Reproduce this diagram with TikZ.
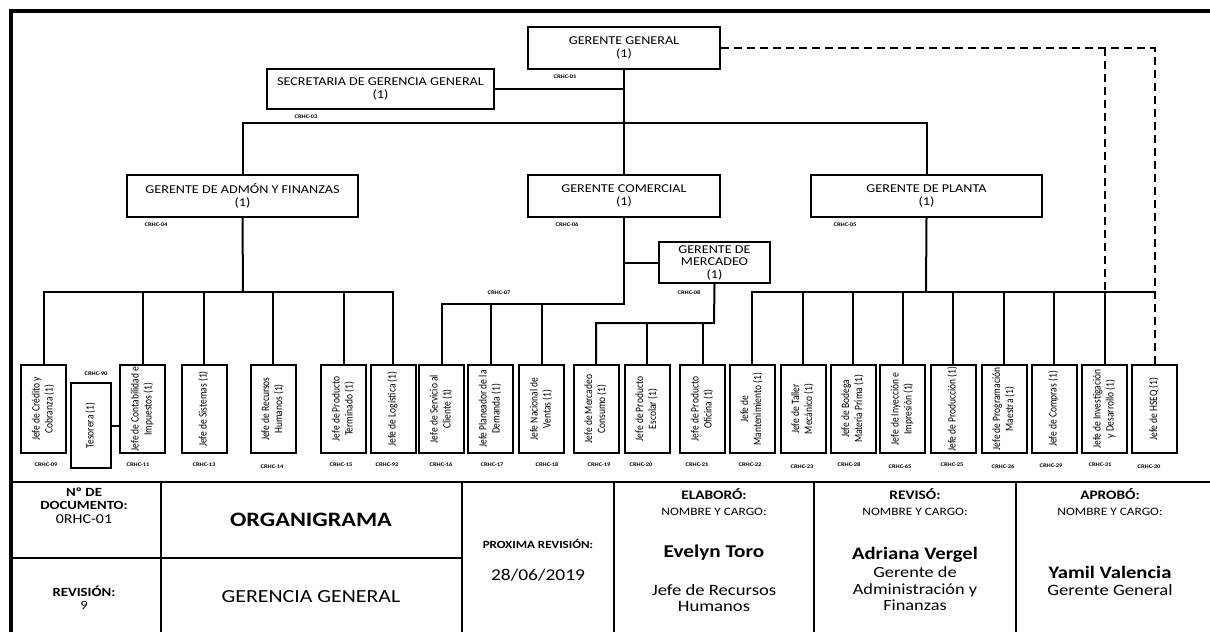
\documentclass[tikz,border=0pt]{standalone}
\usepackage{fontspec}
\setmainfont{Carlito}[FakeStretch=1.18]
\newfontfamily\rotfont{Carlito}
\usetikzlibrary{calc}
\newcommand\vtext[1]{\rotatebox{90}{\scalebox{1}[1.18]{\begin{tabular}{@{}c@{}}#1\end{tabular}}}}
\tikzset{
  mgr/.style={draw, line width=2pt, inner sep=0pt, align=center, font=\fontsize{12}{13.5}\selectfont},
  jefe/.style={draw, line width=2pt, minimum width=45pt, minimum height=88pt, inner sep=0pt, font=\rotfont\fontsize{9.5}{11}\selectfont},
  code/.style={inner sep=0pt, font=\bfseries\fontsize{5.5}{6}\selectfont},
  conn/.style={line width=2pt},
  dconn/.style={line width=2pt, dash pattern=on 8pt off 5pt},
  tline/.style={line width=1.3pt},
  tbold/.style={align=center, inner sep=0pt, font=\bfseries\fontsize{12.5}{13}\selectfont},
  ttext/.style={align=center, inner sep=0pt},
}
\begin{document}
\begin{tikzpicture}[x=1pt,y=-1pt]
\useasboundingbox (0,0) rectangle (1210,632);
% frame
\draw[line width=4.5pt] (11,632) -- (11,11) -- (1210,11);

% managers
\node[mgr, minimum width=192pt, minimum height=42pt] (gg) at (624,48) {GERENTE GENERAL\\(1)};
\node[mgr, minimum width=227pt, minimum height=40pt] (sec) at (380.5,89) {SECRETARIA DE GERENCIA GENERAL\\(1)};
\node[mgr, minimum width=231pt, minimum height=42pt] (adm) at (242.5,196) {GERENTE DE ADMÓN Y FINANZAS\\(1)};
\node[mgr, minimum width=192pt, minimum height=42pt] (com) at (624,196) {GERENTE COMERCIAL\\(1)};
\node[mgr, minimum width=231pt, minimum height=42pt] (pla) at (926.5,196) {GERENTE DE PLANTA\\(1)};
\node[mgr, minimum width=111pt, minimum height=41pt, font=\fontsize{12}{12.5}\selectfont] (mer) at (714.5,262.5) {GERENTE DE\\MERCADEO\\(1)};

\node[code] (c01) at (565,77) {CRHC-01};
\node[code] (c03) at (306,117) {CRHC-03};
\node[code] (c04) at (156,225) {CRHC-04};
\node[code] (c06) at (567,225) {CRHC-06};
\node[code] (c05) at (845,225) {CRHC-05};
\node[code] (c07) at (499,293) {CRHC-07};
\node[code] (c08) at (689,293) {CRHC-08};
\node[code] (c90) at (96,374) {CRHC-90};

% jefes
\node[jefe] (j1) at (43.5,409) {\vtext{Jefe de Crédito y\\Cobranza (1)}};
\node[jefe, minimum width=40pt, minimum height=85pt] (j2) at (91,425.5) {\vtext{Tesorera (1)}};
\node[jefe] (j3) at (142.5,409) {\vtext{Jefe de Contabilidad e\\Impuestos (1)}};
\node[jefe] (j4) at (204,409) {\vtext{Jefe de Sistemas (1)}};
\node[jefe] (j5) at (273,409) {\vtext{Jefe de Recursos\\Humanos (1)}};
\node[jefe] (j6) at (343.5,409) {\vtext{Jefe de Producto\\Terminado (1)}};
\node[jefe] (j7) at (393,409) {\vtext{Jefe de Logística (1)}};
\node[jefe] (j8) at (441.5,409) {\vtext{Jefe de Servicio al\\Cliente (1)}};
\node[jefe] (j9) at (490.5,409) {\vtext{Jefe Planeador de la\\Demanda (1)}};
\node[jefe] (j10) at (541.5,409) {\vtext{Jefe Nacional de\\Ventas (1)}};
\node[jefe] (j11) at (596,409) {\vtext{Jefe de Mercadeo\\Consumo (1)}};
\node[jefe] (j12) at (647,409) {\vtext{Jefe de Producto\\Escolar (1)}};
\node[jefe] (j13) at (702.5,409) {\vtext{Jefe de Producto\\Oficina (1)}};
\node[jefe] (j14) at (752,409) {\vtext{Jefe de\\Mantenimiento (1)}};
\node[jefe] (j15) at (803,409) {\vtext{Jefe de Taller\\Mecánico (1)}};
\node[jefe] (j16) at (853,409) {\vtext{Jefe de Bodega\\Materia Prima (1)}};
\node[jefe] (j17) at (902.5,409) {\vtext{Jefe de Inyección e\\Impresión (1)}};
\node[jefe] (j18) at (953,409) {\vtext{Jefe de Producción (1)}};
\node[jefe] (j19) at (1004,409) {\vtext{Jefe de Programación\\Maestra (1)}};
\node[jefe] (j20) at (1054,409) {\vtext{Jefe de Compras (1)}};
\node[jefe] (j21) at (1104.5,409) {\vtext{Jefe de Investigación\\y Desarrollo (1)}};
\node[jefe] (j22) at (1154.5,409) {\vtext{Jefe de HSEQ (1)}};

% codes under jefes
\node[code] (k1) at (46,465) {CRHC-09};
\node[code] (k3) at (138,465) {CRHC-11};
\node[code] (k4) at (204,465) {CRHC-13};
\node[code] (k5) at (272,467) {CRHC-14};
\node[code] (k6) at (341,465) {CRHC-15};
\node[code] (k7) at (387,465) {CRHC-92};
\node[code] (k8) at (441,465) {CRHC-16};
\node[code] (k9) at (492,465) {CRHC-17};
\node[code] (k10) at (547,465) {CRHC-18};
\node[code] (k11) at (599,465) {CRHC-19};
\node[code] (k12) at (641,465) {CRHC-20};
\node[code] (k13) at (697,465) {CRHC-21};
\node[code] (k14) at (750,465) {CRHC-22};
\node[code] (k15) at (802,467) {CRHC-23};
\node[code] (k16) at (849,465) {CRHC-28};
\node[code] (k17) at (900,467) {CRHC-65};
\node[code] (k18) at (952,465) {CRHC-25};
\node[code] (k19) at (1003,467) {CRHC-26};
\node[code] (k20) at (1051,466) {CRHC-29};
\node[code] (k21) at (1100,465) {CRHC-31};
\node[code] (k22) at (1149,467) {CRHC-30};

% connectors top
\coordinate (b1) at (624,123);
\coordinate (b2) at (243,292);
\coordinate (b3) at (624,304);
\coordinate (b4) at (714,323);
\coordinate (b5) at (926,292);
\draw[conn] (gg.south) -- (com.north);
\draw[conn] (sec.east) -- (sec.east -| gg.south);
\draw[conn] (adm.north) |- (b1) -| (pla.north);
% admon
\draw[conn] (adm.south) -- (b2);
\draw[conn] (j1.north) |- (j7.north |- b2) -- (j7.north);
\foreach \j in {j3,j4,j5,j6} \draw[conn] (\j.north) -- (\j.north |- b2);
\draw[conn] (j2.east) -- (j2.east -| j3.west);
% comercial
\draw[conn] (com.south) -- (b3) -| (j8.north);
\foreach \j in {j9,j10} \draw[conn] (\j.north) -- (\j.north |- b3);
\draw[conn] (mer.west) -- (mer.west -| com.south);
% mercadeo
\draw[conn] (mer.south) -- (b4) -| (j11.north);
\foreach \j in {j12,j13} \draw[conn] (\j.north) -- (\j.north |- b4);
% planta
\draw[conn] (pla.south) -- (b5);
\draw[conn] (j14.north) |- (j22.north |- b5);
\foreach \j in {j15,j16,j17,j18,j19,j20} \draw[conn] (\j.north) -- (\j.north |- b5);
\draw[conn] (j21.north |- b5) -- (j21.north);
% dashed
\draw[dconn] (gg.east) -| (j22.north);
\draw[dconn] (gg.east -| j21.north) -- (j21.north |- b5);

% table
\draw[tline] (11,482) -- (1210,482);
\draw[tline] (11,558) -- (462,558);
\foreach \x in {161,462,614,814,1016} \draw[tline] (\x,482) -- (\x,632);

\node[tbold] (ndoc) at (84,499) {Nº DE\\DOCUMENTO:};
\node[ttext, font=\fontsize{13.5}{15}\selectfont] (ndocv) at (84,519) {0RHC-01};
\node[tbold] (rev) at (84,591) {REVISIÓN:};
\node[ttext, font=\fontsize{12.5}{14}\selectfont] (revv) at (84,605) {9};
\node[ttext, font=\bfseries\fontsize{20.5}{24}\selectfont] (org) at (311,520) {ORGANIGRAMA};
\node[ttext, font=\fontsize{18.5}{22}\selectfont] (gen) at (311,597) {GERENCIA GENERAL};
\node[ttext, font=\bfseries\fontsize{11}{12}\selectfont] (prox) at (538,544) {PROXIMA REVISIÓN:};
\node[ttext, font=\fontsize{16.5}{18}\selectfont] (fecha) at (538,575) {28/06/2019};

\node[ttext, font=\bfseries\fontsize{13}{15}\selectfont] (ela) at (714,494) {ELABORÓ:};
\node[ttext, font=\fontsize{11.3}{13}\selectfont] (elanc) at (714,512) {NOMBRE Y CARGO:};
\node[ttext, font=\bfseries\fontsize{18}{19}\selectfont] (elan) at (714,553) {Evelyn Toro};
\node[ttext, font=\fontsize{15.8}{16}\selectfont] (elac) at (714,598) {Jefe de Recursos\\Humanos};

\node[ttext, font=\bfseries\fontsize{13}{15}\selectfont] (rv) at (915,494) {REVISÓ:};
\node[ttext, font=\fontsize{11.3}{13}\selectfont] (rvnc) at (915,512) {NOMBRE Y CARGO:};
\node[ttext, font=\bfseries\fontsize{17.5}{19}\selectfont] (rvn) at (915,555) {Adriana Vergel};
\node[ttext, font=\fontsize{15.5}{16.5}\selectfont] (rvc) at (915,589) {Gerente de\\Administración y\\Finanzas};

\node[ttext, font=\bfseries\fontsize{13}{15}\selectfont] (ap) at (1110,494) {APROBÓ:};
\node[ttext, font=\fontsize{11.3}{13}\selectfont] (apnc) at (1110,512) {NOMBRE Y CARGO:};
\node[ttext, font=\bfseries\fontsize{17.5}{19}\selectfont] (apn) at (1110,572) {Yamil Valencia};
\node[ttext, font=\fontsize{15.8}{16}\selectfont] (apc) at (1110,590) {Gerente General};
\end{tikzpicture}
\end{document}
